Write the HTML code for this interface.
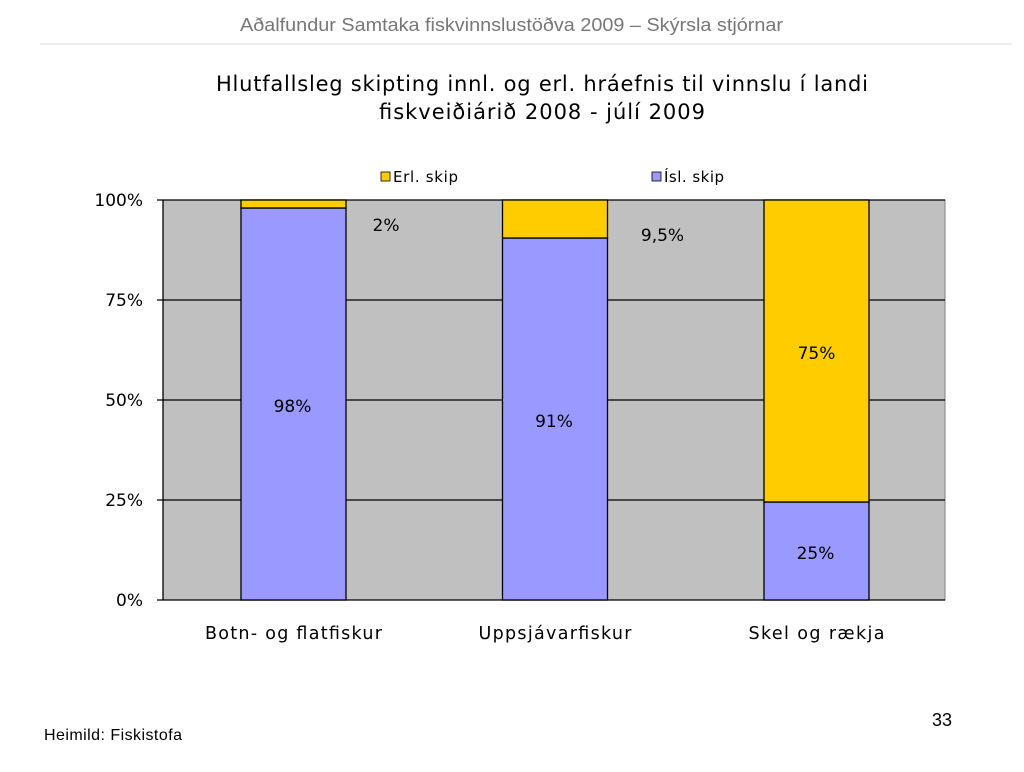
<!DOCTYPE html>
<html><head><meta charset="utf-8"><style>
body{margin:0;width:1024px;height:768px;background:#fff;overflow:hidden;font-family:"DejaVu Sans","Liberation Sans",sans-serif;}
</style></head><body>
<svg width="1024" height="768">
<text x="240" y="31" textLength="543" lengthAdjust="spacingAndGlyphs" font-family="Liberation Sans, sans-serif" font-size="18" fill="#777">Aðalfundur Samtaka fiskvinnslustöðva 2009 – Skýrsla stjórnar</text>
<line x1="40" y1="44" x2="1012" y2="44" stroke="#ddd"/>
<text x="216" y="91" textLength="652" lengthAdjust="spacing" font-size="21" fill="#000">Hlutfallsleg skipting innl. og erl. hráefnis til vinnslu í landi</text>
<text x="379" y="119" textLength="326" lengthAdjust="spacing" font-size="21" fill="#000">fiskveiðiárið 2008 - júlí 2009</text>
<g>
<rect x="381" y="172" width="9" height="9" fill="#ffcc00" stroke="#000" stroke-width="0.8"/>
<text x="393" y="182" textLength="65" lengthAdjust="spacing" font-size="15">Erl. skip</text>
<rect x="652" y="172" width="9" height="9" fill="#9999ff" stroke="#000" stroke-width="0.8"/>
<text x="664" y="182" textLength="60" lengthAdjust="spacing" font-size="15">Ísl. skip</text>
</g>
<g id="chart"></g>
<text x="952" y="726" text-anchor="end" font-family="Liberation Sans, sans-serif" font-size="18">33</text>
<text x="44" y="740" textLength="138" lengthAdjust="spacing" font-family="Liberation Sans, sans-serif" font-size="16">Heimild: Fiskistofa</text>
</svg>
<script>
const categories=["Botn- og flatfiskur","Uppsjávarfiskur","Skel og rækja"];
const islValues=[98,90.5,24.5];
const erlValues=[2,9.5,75.5];
const islLabels=["98%","91%","25%"];
const erlLabels=["2%","9,5%","75%"];
const yTicks=[0,25,50,75,100];
const yTickLabels=["0%","25%","50%","75%","100%"];
const NS="http://www.w3.org/2000/svg";
const g=document.getElementById('chart');
const L=163,R=945,T=200,B=600;
const y=v=>B-(B-T)*v/100;
const bw=105,step=261.5;
const cx=i=>L+130.5+step*i;
const catW=[177,153,136];
function mk(t,a,parent){const e=document.createElementNS(NS,t);for(const k in a)e.setAttribute(k,a[k]);(parent||g).appendChild(e);return e;}
let e=mk('rect',{x:L,y:T,width:R-L,height:B-T,fill:'#c0c0c0',stroke:'#808080'});


yTicks.forEach((t,i)=>{
 const l=mk('line',{x1:L-6,x2:R,y1:y(t),y2:y(t),stroke:'#000','stroke-width':1.3});
 
 
 const tx=mk('text',{x:L-20,y:y(t)+6,'text-anchor':'end','font-size':17});
 tx.textContent=yTickLabels[i];
 
 
});
const ax=mk('line',{x1:L,x2:L,y1:T,y2:B,stroke:'#000','stroke-width':1.3});


categories.forEach((c,i)=>{
 const x0=cx(i)-bw/2;
 const b1=mk('rect',{x:x0,y:y(islValues[i]),width:bw,height:y(0)-y(islValues[i]),fill:'#9999ff',stroke:'#000','stroke-width':1.3});
 
 
 const top=islValues[i]+erlValues[i];
 const b2=mk('rect',{x:x0,y:y(top),width:bw,height:y(islValues[i])-y(top),fill:'#ffcc00',stroke:'#000','stroke-width':1.3});
 
 
 const t1=mk('text',{x:cx(i)-1,y:y(islValues[i]/2)+8,'text-anchor':'middle','font-size':17});
 t1.textContent=islLabels[i];
 
 
 let lx,ly;
 if(erlValues[i]<20){lx=cx(i)+bw/2+40+(i?15:0);ly=y(top)+31+(i?10:0);}else{lx=cx(i);ly=y(islValues[i]+erlValues[i]/2)+8;}
 const t2=mk('text',{x:lx,y:ly,'text-anchor':'middle','font-size':17});
 t2.textContent=erlLabels[i];
 
 
 const xl=mk('text',{x:cx(i)-catW[i]/2,y:639,'font-size':17.5,textLength:catW[i],lengthAdjust:'spacing'});
 xl.textContent=c;
 
 
});
</script>
</body></html>
